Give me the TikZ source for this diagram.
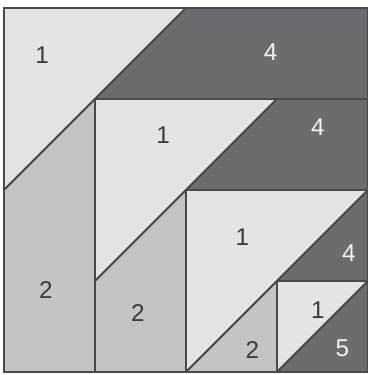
\documentclass[tikz,border=0pt]{standalone}
\usepackage{fontspec}
\setmainfont{Liberation Sans}
\definecolor{lightp}{HTML}{E3E4E6}
\definecolor{midp}{HTML}{C3C4C6}
\definecolor{darkp}{HTML}{6B6C70}
\definecolor{edgec}{HTML}{4A4A4C}
\definecolor{txtd}{HTML}{3A3A3C}
\definecolor{txtl}{HTML}{F2F2F2}
\begin{document}
\begin{tikzpicture}[
  patch/.style={draw=edgec, line width=0.6pt, line join=round},
  lp/.style={patch, fill=lightp},
  mp/.style={patch, fill=midp},
  dp/.style={patch, fill=darkp},
  lab/.style={font=\fontsize{7.6}{9}\selectfont, inner sep=0pt},
  labd/.style={lab, text=txtd},
  labl/.style={lab, text=txtl}
]
\useasboundingbox (-0.044,-0.033) rectangle (4.0,4.088);
% level 1
\path[lp] (0,4) -- (2,4) -- (0,2) -- cycle;
\path[dp] (2,4) -- (4,4) -- (4,3) -- (1,3) -- cycle;
\path[mp] (0,2) -- (1,3) -- (1,0) -- (0,0) -- cycle;
% level 2
\path[lp] (1,3) -- (3,3) -- (1,1) -- cycle;
\path[dp] (3,3) -- (4,3) -- (4,2) -- (2,2) -- cycle;
\path[mp] (1,1) -- (2,2) -- (2,0) -- (1,0) -- cycle;
% level 3
\path[lp] (2,2) -- (4,2) -- (2,0) -- cycle;
\path[dp] (4,2) -- (4,1) -- (3,1) -- cycle;
\path[mp] (2,0) -- (3,1) -- (3,0) -- cycle;
% level 4
\path[lp] (3,1) -- (4,1) -- (3,0) -- cycle;
\path[dp] (4,1) -- (4,0) -- (3,0) -- cycle;
% outer frame
\draw[edgec, line width=0.9pt] (0,0) rectangle (4,4);
% labels
\node[labd] (a1) at (0.42,3.48) {1};
\node[labl] (a4) at (2.93,3.51) {4};
\node[labd] (a2) at (0.46,0.90) {2};
\node[labd] (b1) at (1.75,2.60) {1};
\node[labl] (b4) at (3.45,2.69) {4};
\node[labd] (b2) at (1.47,0.65) {2};
\node[labd] (c1) at (2.62,1.48) {1};
\node[labl] (c4) at (3.79,1.31) {4};
\node[labd] (c2) at (2.73,0.24) {2};
\node[labd] (d1) at (3.45,0.68) {1};
\node[labl] (d5) at (3.72,0.26) {5};
\end{tikzpicture}
\end{document}
